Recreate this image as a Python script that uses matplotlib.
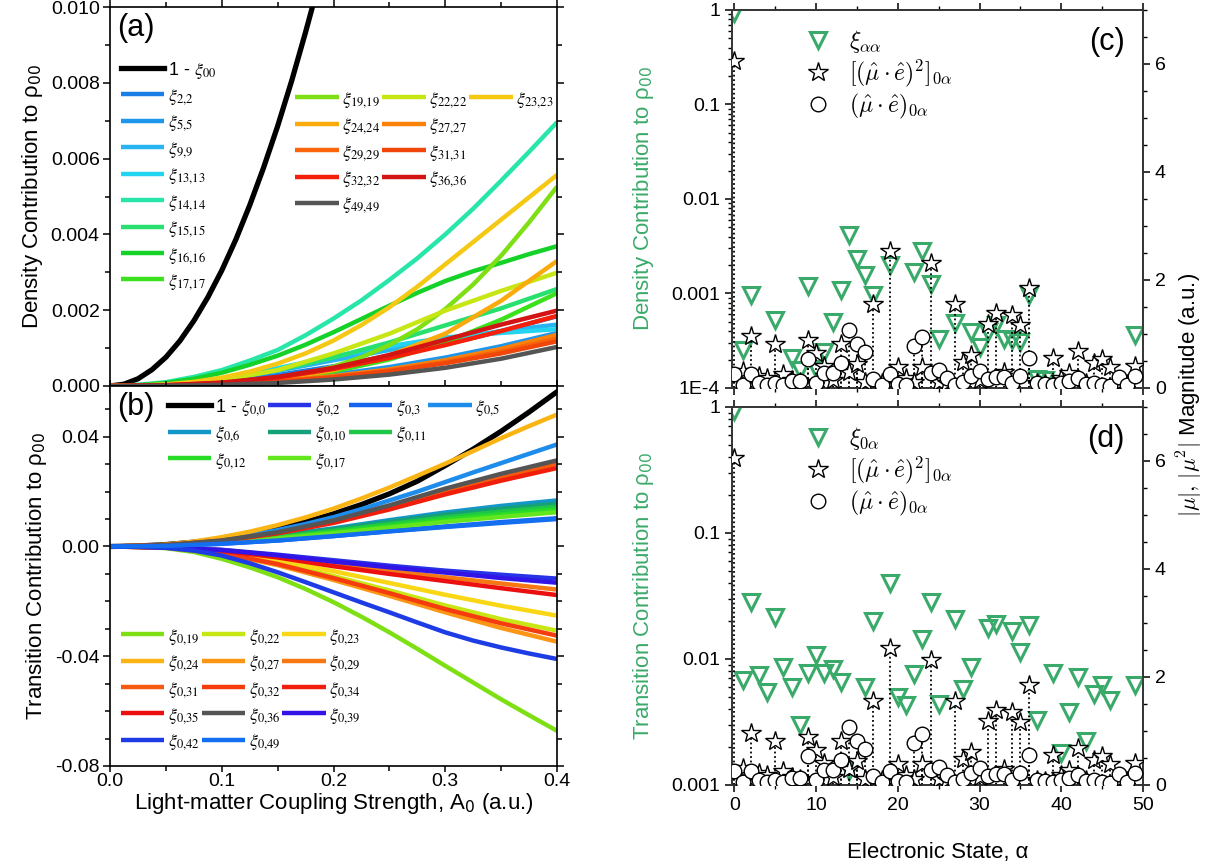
import numpy as np
import matplotlib
matplotlib.use('Agg')
import matplotlib.pyplot as plt
from matplotlib.lines import Line2D
from matplotlib.font_manager import FontProperties
from matplotlib.ticker import MultipleLocator, FormatStrFormatter

plt.rcParams['font.family'] = ['Liberation Sans', 'DejaVu Sans']
plt.rcParams['mathtext.fontset'] = 'dejavusans'

nan = np.nan

# ---------------- panel (a): density contributions (units of 1e-3) ----------------
A0 = [0, 0.05, 0.1, 0.15, 0.2, 0.25, 0.3, 0.35, 0.4]
A0_dense = [0, 0.025, 0.05, 0.075, 0.1, 0.125, 0.15, 0.175, 0.2,
            0.225, 0.25, 0.275, 0.3, 0.325, 0.35, 0.375, 0.4]
A0_black = [0, 0.0125, 0.025, 0.0375, 0.05, 0.0625, 0.075, 0.0875, 0.1,
            0.1125, 0.125, 0.1375, 0.15, 0.1625, 0.175, 0.1875, 0.2]
one_minus_xi00 = [0, 0.048, 0.19, 0.43, 0.76, 1.19, 1.72, 2.34, 3.05,
                  3.86, 4.77, 5.77, 6.86, 8.05, 9.34, 10.7, 12.2]

xi_2_2 = [0, 0.03, 0.12, 0.29, 0.52, 0.80, 1.10, 1.45, 1.84]
xi_5_5 = [0, 0.01, 0.06, 0.16, 0.30, 0.50, 0.75, 1.05, 1.40]
xi_9_9 = [0, 0.04, 0.17, 0.40, 0.68, 0.95, 1.22, 1.45, 1.62]
xi_13_13 = [0, 0.05, 0.20, 0.47, 0.78, 1.05, 1.28, 1.40, 1.50]
xi_14_14 = [0, 0.03, 0.10, 0.24, 0.42, 0.67, 0.95, 1.34, 1.78,
            2.26, 2.80, 3.37, 4.00, 4.68, 5.42, 6.18, 6.96]          # dense grid
xi_15_15 = [0, 0.04, 0.18, 0.42, 0.75, 1.15, 1.60, 2.05, 2.56]
xi_16_16 = [0, 0.02, 0.08, 0.19, 0.35, 0.56, 0.80, 1.09, 1.42,
            1.77, 2.12, 2.46, 2.77, 3.03, 3.25, 3.48, 3.69]          # dense grid
xi_17_17 = [0, 0.01, 0.05, 0.16, 0.38, 0.70, 1.15, 1.75, 2.45]
xi_19_19 = [0, 0, 0.01, 0.02, 0.05, 0.11, 0.20, 0.33, 0.51,
            0.76, 1.08, 1.50, 2.03, 2.68, 3.44, 4.32, 5.26]          # dense grid
xi_22_22 = [0, 0.03, 0.15, 0.42, 0.86, 1.38, 1.99, 2.51, 2.99]
xi_23_23 = [0, 0.01, 0.04, 0.11, 0.22, 0.38, 0.59, 0.86, 1.20,
            1.61, 2.08, 2.62, 3.21, 3.80, 4.39, 4.98, 5.57]          # dense grid
xi_24_24 = [0, 0.01, 0.05, 0.17, 0.42, 0.81, 1.38, 2.25, 3.30]
xi_27_27 = [0, 0.01, 0.05, 0.13, 0.26, 0.44, 0.68, 0.98, 1.35]
xi_29_29 = [0, 0.01, 0.04, 0.12, 0.24, 0.41, 0.63, 0.91, 1.25]
xi_31_31 = [0, 0.01, 0.04, 0.11, 0.23, 0.39, 0.60, 0.86, 1.18]
xi_32_32 = [0, 0.02, 0.08, 0.22, 0.45, 0.74, 1.08, 1.45, 1.85]
xi_36_36 = [0, 0.02, 0.09, 0.24, 0.48, 0.82, 1.22, 1.62, 1.99]
xi_49_49 = [0, 0.005, 0.03, 0.08, 0.17, 0.30, 0.48, 0.72, 1.03]

# ---------------- panel (b): transition contributions (units of 1e-2) ----------------
one_minus_xi_0_0 = [0, 0.017, 0.07, 0.157, 0.284, 0.447, 0.651, 0.897, 1.19,
                    1.53, 1.92, 2.38, 2.95, 3.55, 4.20, 4.90, 5.64]  # dense grid
xi_0_2 = [0, -0.03, -0.12, -0.30, -0.50, -0.70, -0.88, -1.03, -1.17]
xi_0_3 = [0, 0.02, 0.10, 0.22, 0.38, 0.56, 0.73, 0.89, 1.03]
xi_0_5 = [0, 0.01, 0.05, 0.13, 0.25, 0.41, 0.60, 0.82, 1.07,
          1.36, 1.68, 2.00, 2.35, 2.70, 3.04, 3.38, 3.72]            # dense grid
xi_0_6 = [0, 0.04, 0.18, 0.40, 0.66, 0.96, 1.24, 1.48, 1.68]
xi_0_10 = [0, 0.04, 0.17, 0.38, 0.63, 0.90, 1.16, 1.38, 1.56]
xi_0_11 = [0, 0.03, 0.15, 0.34, 0.57, 0.82, 1.06, 1.27, 1.45]
xi_0_12 = [0, 0.03, 0.14, 0.31, 0.52, 0.75, 0.98, 1.17, 1.35]
xi_0_17 = [0, 0.03, 0.13, 0.29, 0.48, 0.69, 0.90, 1.08, 1.25]
xi_0_19 = [0, -0.01, -0.06, -0.20, -0.45, -0.76, -1.12, -1.55, -2.03,
           -2.56, -3.13, -3.73, -4.35, -4.96, -5.57, -6.15, -6.72]   # dense grid
xi_0_22 = [0, -0.04, -0.23, -0.60, -1.08, -1.60, -2.15, -2.65, -3.07]
xi_0_23 = [0, -0.03, -0.19, -0.50, -0.90, -1.33, -1.76, -2.16, -2.52]
xi_0_24 = [0, 0.02, 0.07, 0.18, 0.34, 0.54, 0.78, 1.06, 1.38,
           1.75, 2.15, 2.58, 3.02, 3.48, 3.95, 4.39, 4.81]           # dense grid
xi_0_27 = [0, -0.04, -0.25, -0.68, -1.22, -1.80, -2.40, -2.97, -3.47]
xi_0_29 = [0, -0.03, -0.14, -0.36, -0.64, -0.90, -1.12, -1.35, -1.57]
xi_0_31 = [0, 0.05, 0.21, 0.50, 0.90, 1.42, 2.00, 2.50, 3.02]
xi_0_32 = [0, -0.04, -0.24, -0.64, -1.15, -1.70, -2.28, -2.80, -3.25]
xi_0_34 = [0, 0.05, 0.20, 0.48, 0.86, 1.35, 1.90, 2.40, 2.86]
xi_0_35 = [0, -0.03, -0.15, -0.40, -0.72, -1.00, -1.26, -1.52, -1.77]
xi_0_36 = [0, 0.05, 0.22, 0.52, 0.95, 1.50, 2.11, 2.65, 3.14]
xi_0_39 = [0, -0.03, -0.13, -0.32, -0.55, -0.76, -0.95, -1.15, -1.32]
xi_0_42 = [0, -0.01, -0.05, -0.15, -0.33, -0.61, -0.94, -1.30, -1.67,
           -2.04, -2.40, -2.77, -3.13, -3.43, -3.68, -3.90, -4.10]   # dense grid
xi_0_49 = [0, 0.02, 0.10, 0.22, 0.38, 0.55, 0.71, 0.86, 1.00]

# ---------------- panels (c),(d) ----------------
alpha = list(range(50))
mu2_mag = [6.05, 0.32, 0.97, 0.23, 0.18, 0.82, 0.25, 0.15, 0.12, 0.89,
           0.65, 0.40, 0.15, 0.82, 0.30, 0.45, 0.12, 1.55, 0.10, 2.54,
           0.38, 0.19, 0.11, 0.38, 2.32, 0.12, 0.10, 1.55, 0.48, 0.62,
           0.15, 1.18, 1.39, 0.30, 1.36, 1.16, 1.86, 0.10, 0.08, 0.55,
           0.18, 0.27, 0.69, 0.10, 0.47, 0.53, 0.38, 0.10, 0.08, 0.41]
mu_mag = [0.26, 0.05, 0.25, 0.10, 0.06, 0.10, 0.05, 0.13, 0.13, 0.53,
          0.10, 0.28, 0.28, 0.47, 1.07, 0.81, 0.67, 0.17, 0.05, 0.26,
          0.08, 0.05, 0.77, 0.94, 0.27, 0.34, 0.18, 0.05, 0.12, 0.23,
          0.32, 0.17, 0.20, 0.20, 0.10, 0.22, 0.56, 0.10, 0.08, 0.05,
          0.10, 0.13, 0.18, 0.08, 0.10, 0.05, 0.03, 0.20, 0.05, 0.22]
xi_aa = [0.93, 2.5e-4, 9.6e-4, nan, nan, 5.2e-4, nan, 2.1e-4, 1.55e-4, 1.2e-3,
         1.6e-4, 2.4e-4, 5.0e-4, 1.1e-3, 4.2e-3, 2.3e-3, 1.56e-3, 9.7e-4, nan, 2.0e-3,
         nan, nan, 1.7e-3, 2.8e-3, 1.25e-3, 3.3e-4, nan, 4.9e-4, nan, 3.9e-4,
         2.7e-4, 3.9e-4, 4.6e-4, 3.3e-4, 3.2e-4, 3.1e-4, 9.6e-4, 1.25e-4, 1.2e-4, nan,
         nan, nan, nan, nan, nan, nan, nan, nan, nan, 3.6e-4]
xi_0a = [0.93, 6.8e-3, 2.85e-2, 7.4e-3, 5.5e-3, 2.17e-2, 8.6e-3, 6.0e-3, 3.0e-3, 7.8e-3,
         1.08e-2, 7.8e-3, 8.4e-3, 6.6e-3, 1.3e-3, nan, 6.0e-3, 2.0e-2, nan, 4.0e-2,
         5.0e-3, 4.3e-3, 7.6e-3, 1.43e-2, 2.85e-2, 4.4e-3, nan, 2.07e-2, 5.75e-3, 8.6e-3,
         nan, 1.75e-2, 1.88e-2, nan, 1.68e-2, 1.13e-2, 1.86e-2, 3.3e-3, nan, 7.7e-3,
         1.8e-3, 3.8e-3, 7.2e-3, 2.25e-3, 5.3e-3, 6.2e-3, 4.7e-3, nan, nan, 6.2e-3]

# ---------------- figure ----------------
fig = plt.figure(figsize=(12.2, 8.67), dpi=100)
ax_a = fig.add_axes([0.0902, 0.5548, 0.3664, 0.4371])
ax_b = fig.add_axes([0.0902, 0.1165, 0.3664, 0.4383])
ax_c = fig.add_axes([0.600, 0.5525, 0.3369, 0.436])
ax_d = fig.add_axes([0.600, 0.0946, 0.3369, 0.436])

LW = 3.2
tick_fs = 14
leg_prop = FontProperties(family='Liberation Sans', size=13, math_fontfamily='stix')
leg_kw = dict(frameon=False, prop=leg_prop, handlelength=2.4, handletextpad=0.2,
              labelspacing=0.36, columnspacing=0.1, borderaxespad=0.2)
blank = Line2D([], [], color='none')


def xl(sub):
    return r'$\xi_{' + sub.replace(',', '{,}') + '}$'


# panel (a)
a_series = [
    (A0, xi_2_2, '2,2', '#1a7ee6'),
    (A0, xi_5_5, '5,5', '#1e96eb'),
    (A0, xi_9_9, '9,9', '#28b4f0'),
    (A0, xi_13_13, '13,13', '#22d4f0'),
    (A0_dense, xi_14_14, '14,14', '#28e6aa'),
    (A0, xi_15_15, '15,15', '#28e070'),
    (A0_dense, xi_16_16, '16,16', '#14d228'),
    (A0, xi_17_17, '17,17', '#3ce11e'),
    (A0_dense, xi_19_19, '19,19', '#7ee014'),
    (A0, xi_22_22, '22,22', '#c8e614'),
    (A0_dense, xi_23_23, '23,23', '#f5c814'),
    (A0, xi_24_24, '24,24', '#faaa0a'),
    (A0, xi_27_27, '27,27', '#fa820a'),
    (A0, xi_29_29, '29,29', '#fa640a'),
    (A0, xi_31_31, '31,31', '#f0460a'),
    (A0, xi_32_32, '32,32', '#f5200a'),
    (A0, xi_36_36, '36,36', '#d21414'),
    (A0, xi_49_49, '49,49', '#555555'),
]
ha = {}
ha['black'], = ax_a.plot(A0_black, np.array(one_minus_xi00) * 1e-3, color='k', lw=LW + 0.6,
                         label=r'1 - $\xi_{00}$')
for xs, vals, sub, col in a_series:
    ha[sub], = ax_a.plot(xs, np.array(vals) * 1e-3, color=col, lw=LW, label=xl(sub),
                         solid_capstyle='butt', solid_joinstyle='round')

ax_a.set_xlim(0, 0.4)
ax_a.set_ylim(0, 0.010)
ax_a.yaxis.set_major_locator(MultipleLocator(0.002))
ax_a.yaxis.set_minor_locator(MultipleLocator(0.001))
ax_a.xaxis.set_major_locator(MultipleLocator(0.1))
ax_a.xaxis.set_minor_locator(MultipleLocator(0.05))
ax_a.yaxis.set_major_formatter(FormatStrFormatter('%.3f'))
ax_a.tick_params(labelbottom=False)
ax_a.set_ylabel(r'Density Contribution to ρ$_{00}$', fontsize=16)
ax_a.text(0.015, 0.985, '(a)', transform=ax_a.transAxes, fontsize=22, va='top')

l1_order = ['black', '2,2', '5,5', '9,9', '13,13', '14,14', '15,15', '16,16', '17,17']
leg1 = ax_a.legend([ha[k] for k in l1_order], [ha[k].get_label() for k in l1_order],
                   loc='upper left', bbox_to_anchor=(0.0, 0.89), **leg_kw)
ax_a.add_artist(leg1)
l2_order = ['19,19', '24,24', '29,29', '32,32', '49,49',
            '22,22', '27,27', '31,31', '36,36', None,
            '23,23', None, None, None, None]
ax_a.legend([ha[k] if k else blank for k in l2_order], [xl(k) if k else '' for k in l2_order],
            ncol=3, loc='upper left', bbox_to_anchor=(0.39, 0.81), **leg_kw)

# panel (b)
b_series = [
    (A0, xi_0_2, '0,2', '#2832e6'),
    (A0, xi_0_3, '0,3', '#1464f0'),
    (A0_dense, xi_0_5, '0,5', '#1e8ceb'),
    (A0, xi_0_6, '0,6', '#1496c8'),
    (A0, xi_0_10, '0,10', '#14a078'),
    (A0, xi_0_11, '0,11', '#1ec846'),
    (A0, xi_0_12, '0,12', '#28dc28'),
    (A0, xi_0_17, '0,17', '#64e61e'),
    (A0_dense, xi_0_19, '0,19', '#7ee014'),
    (A0, xi_0_22, '0,22', '#c8e614'),
    (A0, xi_0_23, '0,23', '#fad714'),
    (A0_dense, xi_0_24, '0,24', '#fab414'),
    (A0, xi_0_27, '0,27', '#fa9614'),
    (A0, xi_0_29, '0,29', '#f57814'),
    (A0, xi_0_31, '0,31', '#f55a0f'),
    (A0, xi_0_32, '0,32', '#f53c0f'),
    (A0, xi_0_34, '0,34', '#f01e0a'),
    (A0, xi_0_35, '0,35', '#eb0f0f'),
    (A0, xi_0_36, '0,36', '#555555'),
    (A0, xi_0_39, '0,39', '#3214e6'),
    (A0_dense, xi_0_42, '0,42', '#1e3ce6'),
    (A0, xi_0_49, '0,49', '#146ef0'),
]
hb = {}
hb['black'], = ax_b.plot(A0_dense, np.array(one_minus_xi_0_0) * 1e-2, color='k', lw=LW + 0.6,
                         label=r'1 - $\xi_{0{,}0}$')
for xs, vals, sub, col in b_series:
    hb[sub], = ax_b.plot(xs, np.array(vals) * 1e-2, color=col, lw=LW, label=xl(sub),
                         solid_capstyle='butt', solid_joinstyle='round')

ax_b.set_xlim(0, 0.4)
ax_b.set_ylim(-0.08, 0.0585)
ax_b.yaxis.set_major_locator(MultipleLocator(0.04))
ax_b.yaxis.set_minor_locator(MultipleLocator(0.01))
ax_b.xaxis.set_major_locator(MultipleLocator(0.1))
ax_b.xaxis.set_minor_locator(MultipleLocator(0.05))
ax_b.yaxis.set_major_formatter(FormatStrFormatter('%.2f'))
ax_b.xaxis.set_major_formatter(FormatStrFormatter('%.1f'))
ax_b.set_ylabel(r'Transition Contribution to ρ$_{00}$', fontsize=16)
ax_b.set_xlabel(r'Light-matter Coupling Strength, A$_0$ (a.u.)', fontsize=16, labelpad=1)
ax_b.text(0.015, 0.985, '(b)', transform=ax_b.transAxes, fontsize=22, va='top')

lb1 = ['black', '0,6', '0,12',
       '0,2', '0,10', '0,17',
       '0,3', '0,11', None,
       '0,5', None, None]
legb1 = ax_b.legend([hb[k] if k else blank for k in lb1],
                    [hb[k].get_label() if k else '' for k in lb1],
                    ncol=4, loc='upper left', bbox_to_anchor=(0.105, 1.0), **leg_kw)
ax_b.add_artist(legb1)
lb2 = ['0,19', '0,24', '0,31', '0,35', '0,42',
       '0,22', '0,27', '0,32', '0,36', '0,49',
       '0,23', '0,29', '0,34', '0,39', None]
ax_b.legend([hb[k] if k else blank for k in lb2], [xl(k) if k else '' for k in lb2],
            ncol=3, loc='upper left', bbox_to_anchor=(0.0, 0.395), **leg_kw)

for ax in (ax_a, ax_b):
    ax.tick_params(which='both', direction='out', top=True, right=True, labelsize=tick_fs,
                   pad=2.5)
    ax.tick_params(which='major', length=5, width=1.1)
    ax.tick_params(which='minor', length=3.5, width=1.1)
    for s in ax.spines.values():
        s.set_linewidth(1.2)
ax_b.tick_params(axis='x', which='major', length=4, pad=1)

# panels (c) and (d)
green = '#3aaa6a'
cm_prop = FontProperties(family='Liberation Sans', size=17, math_fontfamily='cm')
panels = [
    (ax_c, xi_aa, r'$\xi_{\alpha\alpha}$', (1e-4, 1), [1e-4, 1e-3, 1e-2, 0.1, 1],
     ['1E-4', '0.001', '0.01', '0.1', '1'], r'Density Contribution to ρ$_{00}$', '(c)'),
    (ax_d, xi_0a, r'$\xi_{0\alpha}$', (1e-3, 1), [1e-3, 1e-2, 0.1, 1],
     ['0.001', '0.01', '0.1', '1'], r'Transition Contribution to ρ$_{00}$', '(d)'),
]
for ax, xi, xlab, ylim, yt, ytl, ylab, tag in panels:
    ax.set_yscale('log')
    h_tri, = ax.plot(alpha, xi, ls='none', marker='v', ms=11, mfc='none', mec=green,
                     mew=2.2, zorder=3)
    ax.set_ylim(*ylim)
    ax.set_yticks(yt, ytl)
    ax.set_xlim(-0.3, 50)
    ax.xaxis.set_major_locator(MultipleLocator(10))
    ax.xaxis.set_minor_locator(MultipleLocator(5))
    ax.set_ylabel(ylab, fontsize=16, color=green, labelpad=11)

    ax2 = ax.twinx()
    ax2.vlines(alpha, 0, mu2_mag, colors='k', linestyles=(0, (1, 1.5)), lw=1.3, zorder=1)
    ax2.vlines(alpha, 0, mu_mag, colors='k', linestyles=(0, (1, 1.5)), lw=1.3, zorder=1)
    h_star, = ax2.plot(alpha, mu2_mag, ls='none', marker='*', ms=15, mfc='white', mec='k',
                       mew=1.0, zorder=3)
    h_circ, = ax2.plot(alpha, mu_mag, ls='none', marker='o', ms=10.5, mfc='white', mec='k',
                       mew=1.0, zorder=4)
    ax2.set_ylim(0, 7)
    ax2.yaxis.set_major_locator(MultipleLocator(2))
    ax2.yaxis.set_minor_locator(MultipleLocator(0.5))
    ax2.tick_params(which='both', direction='out', labelsize=tick_fs)
    ax2.tick_params(which='major', length=5, width=1.1)
    ax2.tick_params(which='minor', length=3, width=1.0)
    ax.tick_params(which='both', direction='out', top=True, labelsize=tick_fs)
    ax.tick_params(which='major', length=5, width=1.1)
    ax.tick_params(which='minor', length=3, width=1.0)
    for s in list(ax.spines.values()) + list(ax2.spines.values()):
        s.set_linewidth(1.2)
        s.set_color('#333333')

    ax2.legend([h_tri, h_star, h_circ],
               [xlab, r'$[(\hat{\mu}\cdot\hat{e})^2]_{0\alpha}$', r'$(\hat{\mu}\cdot\hat{e})_{0\alpha}$'],
               loc='upper left', bbox_to_anchor=(0.14, 0.99), frameon=False, prop=cm_prop,
               handlelength=1.2, handletextpad=0.7, labelspacing=0.12, borderaxespad=0.2)
    ax2.text(0.955, 0.955, tag, transform=ax2.transAxes, fontsize=22, ha='right', va='top')

ax_c.tick_params(labelbottom=False)
ax_d.set_xlabel(r'Electronic State, α', fontsize=16, labelpad=20)

fig.text(0.975, 0.545, r'$|\mu|,\,|\mu^2|$ Magnitude (a.u.)', rotation=90, fontsize=16,
         ha='center', va='center', math_fontfamily='cm')

fig.savefig('out.png', dpi=100)
